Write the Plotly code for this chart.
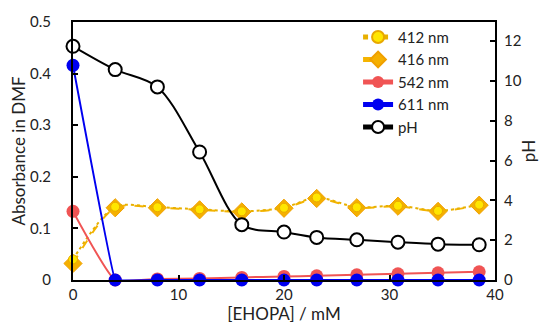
import plotly.graph_objects as go

conc = [0, 4, 8, 12, 16, 20, 23.1, 26.9, 30.8, 34.6, 38.5]
a412 = [0.040, 0.142, 0.141, 0.137, 0.133, 0.140, 0.160, 0.141, 0.144, 0.134, 0.146]
a416 = [0.032, 0.140, 0.140, 0.136, 0.132, 0.139, 0.158, 0.140, 0.143, 0.133, 0.145]
a542 = [0.133, 0.0, 0.002, 0.003, 0.005, 0.007, 0.008, 0.010, 0.012, 0.014, 0.016]
a611 = [0.416, 0.0, 0.0, 0.0, 0.0, 0.0, 0.0, 0.0, 0.0, 0.0, 0.0]
ph = [11.74, 10.57, 9.7, 6.43, 2.78, 2.41, 2.14, 2.02, 1.9, 1.8, 1.77]

FONT = "Lato"

fig = go.Figure()
fig.add_trace(go.Scatter(
    x=conc, y=a416, name="416 nm", mode="lines+markers", legendrank=2,
    cliponaxis=False,
    line=dict(color="#F5B400", width=2, dash="dash", shape="spline", smoothing=0.8),
    marker=dict(symbol="diamond", size=14, color="#F5B000",
                line=dict(color="#F0A000", width=1)),
))
fig.add_trace(go.Scatter(
    x=conc, y=a412, name="412 nm", mode="lines+markers", legendrank=1,
    cliponaxis=False,
    line=dict(color="#E8B000", width=2, dash="dot", shape="spline", smoothing=0.8),
    marker=dict(symbol="circle", size=9, color="#FFE600",
                line=dict(color="#E8A800", width=1)),
))
fig.add_trace(go.Scatter(
    x=conc, y=a542, name="542 nm", mode="lines+markers", legendrank=3,
    cliponaxis=False,
    line=dict(color="#F05454", width=2, shape="spline", smoothing=0.4),
    marker=dict(symbol="circle", size=13, color="#F05454"),
))
fig.add_trace(go.Scatter(
    x=conc, y=a611, name="611 nm", mode="lines+markers", legendrank=4,
    cliponaxis=False,
    line=dict(color="#0000F0", width=2, shape="spline", smoothing=0.1),
    marker=dict(symbol="circle", size=13, color="#0000F0"),
))
fig.add_trace(go.Scatter(
    x=conc, y=ph, name="pH", mode="lines+markers", yaxis="y2", legendrank=5,
    cliponaxis=False,
    line=dict(color="black", width=2, shape="spline", smoothing=0.9),
    marker=dict(symbol="circle", size=13, color="white",
                line=dict(color="black", width=2)),
))

fig.update_layout(
    width=550, height=332,
    margin=dict(l=65, r=63, t=14, b=60),
    paper_bgcolor="white", plot_bgcolor="white",
    font=dict(family=FONT, size=15, color="#222"),
    showlegend=True,
    legend=dict(x=0.903, y=1.005, xanchor="right", yanchor="top",
                bgcolor="rgba(0,0,0,0)", font=dict(size=15, family=FONT),
                tracegroupgap=0, itemsizing="constant"),
    xaxis=dict(range=[0, 40], dtick=10, ticks="inside", ticklen=5,
               tickcolor="black", tickwidth=2,
               showline=True, linecolor="black", linewidth=2, mirror=True,
               showgrid=False, zeroline=False,
               title=dict(text="[EHOPA] / mM", font=dict(size=17), standoff=2),
               tickfont=dict(size=15)),
    yaxis=dict(range=[0, 0.5], ticks="inside", ticklen=5,
               tickcolor="black", tickwidth=2, ticklabelstandoff=17,
               showline=True, linecolor="black", linewidth=2,
               showgrid=False, zeroline=False, automargin=False,
               tickvals=[0, 0.1, 0.2, 0.3, 0.4, 0.5],
               ticktext=["0", "0.1", "0.2", "0.3", "0.4", "0.5"],
               title=dict(text="Absorbance in DMF", font=dict(size=17)),
               tickfont=dict(size=15)),
    yaxis2=dict(range=[0, 12.96], dtick=2, ticks="inside", ticklen=5,
                tickcolor="black", tickwidth=2, overlaying="y", side="right",
                ticklabelstandoff=4,
                showline=True, linecolor="black", linewidth=2,
                showgrid=False, zeroline=False,
                title=dict(text="pH", font=dict(size=17), standoff=2),
                tickfont=dict(size=15)),
)

fig.write_html("out.html")
